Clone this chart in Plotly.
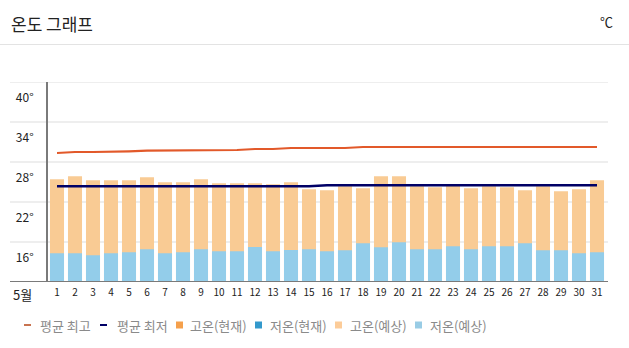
import plotly.graph_objects as go

days = [str(d) for d in range(1, 32)]
high_forecast = [28.4, 28.85, 28.25, 28.25, 28.25, 28.7, 27.95, 27.95, 28.4, 27.8,
                 27.8, 27.8, 27.65, 27.95, 26.9, 26.75, 27.35, 27.05, 28.85, 28.85,
                 27.35, 27.2, 27.4, 27.05, 27.35, 27.2, 26.75, 27.35, 26.6, 26.9, 28.25]
low_forecast = [17.3, 17.3, 17.0, 17.3, 17.45, 17.9, 17.3, 17.45, 17.9, 17.6,
                17.6, 18.25, 17.6, 17.8, 17.9, 17.6, 17.75, 18.8, 18.2, 18.95,
                17.9, 17.9, 18.35, 17.9, 18.35, 18.35, 18.8, 17.75, 17.75, 17.3, 17.45]
avg_high = [32.35, 32.5, 32.5, 32.5, 32.6, 32.7, 32.7, 32.8, 32.8, 32.8,
            32.8, 32.95, 32.95, 33.1, 33.1, 33.1, 33.1, 33.25, 33.25, 33.25,
            33.25, 33.25, 33.25, 33.25, 33.25, 33.25, 33.25, 33.25, 33.25, 33.25, 33.25]
avg_low = [27.35] * 15 + [27.5] * 16
y_label_vals = [16, 22, 28, 34, 40]
y_label_text = ["16°", "22°", "28°", "34°", "40°"]
grid_vals = [19, 25, 31, 37, 43]
legend_labels = ["평균 최고", "평균 최저", "고온(현재)", "저온(현재)", "고온(예상)", "저온(예상)"]

W, H = 629, 348
L, R, T, B = 48, 23, 82, 66
PW, PH = W - L - R, H - T - B


def px(x):
    return (x - L) / PW


def py(y):
    return (H - B - y) / PH


fig = go.Figure()
fig.add_trace(go.Bar(x=days, y=high_forecast, marker_color="#f9cb94",
                     marker_line_width=0, showlegend=False, hoverinfo="skip"))
fig.add_trace(go.Bar(x=days, y=low_forecast, marker_color="#93cdea",
                     marker_line_width=0, showlegend=False, hoverinfo="skip"))
fig.add_trace(go.Scatter(x=days, y=avg_high, mode="lines",
                         line=dict(color="#e2592a", width=2.2), showlegend=False))
fig.add_trace(go.Scatter(x=days, y=avg_low, mode="lines",
                         line=dict(color="#000066", width=2.5), showlegend=False))

shapes = []
for g in grid_vals:
    shapes.append(dict(type="line", xref="paper", yref="y", x0=px(10), x1=px(608),
                       y0=g, y1=g, line=dict(color="#eeeeee", width=2), layer="below"))
shapes.append(dict(type="line", xref="paper", yref="y", x0=px(10), x1=px(608),
                   y0=13, y1=13, line=dict(color="#7a7a7a", width=2), layer="above"))
shapes.append(dict(type="line", xref="paper", yref="paper", x0=px(0), x1=px(W),
                   y0=py(44.5), y1=py(44.5), line=dict(color="#e3e3e3", width=1)))

legend_colors = ["#c87350", "#000066", "#f5a04c", "#3399cc", "#fccc99", "#99cce5"]
sym_x = [24, 100, 176, 255, 335, 415]
txt_x = [38, 115, 188, 268, 348, 428]
ly = 325
annotations = []
for i, (lab, col) in enumerate(zip(legend_labels, legend_colors)):
    if i < 2:
        shapes.append(dict(type="line", xref="paper", yref="paper",
                           x0=px(sym_x[i]), x1=px(sym_x[i] + 7),
                           y0=py(ly), y1=py(ly), line=dict(color=col, width=2)))
    else:
        shapes.append(dict(type="rect", xref="paper", yref="paper",
                           x0=px(sym_x[i]), x1=px(sym_x[i] + 7),
                           y0=py(ly - 3.5), y1=py(ly + 3.5),
                           fillcolor=col, line=dict(width=0)))
    annotations.append(dict(text=lab, xref="paper", yref="paper", x=px(txt_x[i]),
                            y=py(ly), xanchor="left", yanchor="middle", showarrow=False,
                            font=dict(size=13, color="#8a8a8a")))

annotations.append(dict(text="온도 그래프", xref="paper", yref="paper", x=px(9),
                        y=py(23), xanchor="left", yanchor="middle", showarrow=False,
                        font=dict(size=17, color="#222222")))
annotations.append(dict(text="℃", xref="paper", yref="paper", x=px(615),
                        y=py(22), xanchor="right", yanchor="middle", showarrow=False,
                        font=dict(size=13, color="#222222")))
annotations.append(dict(text="5월", xref="paper", yref="paper", x=px(22),
                        y=py(294), xanchor="center", yanchor="middle", showarrow=False,
                        font=dict(size=13, color="#222222")))

fig.update_layout(
    width=W, height=H,
    margin=dict(l=L, r=R, t=T, b=B, pad=0),
    paper_bgcolor="white", plot_bgcolor="white",
    barmode="overlay", bargap=0.22,
    font=dict(family="Noto Sans CJK KR, sans-serif", color="#222222"),
    showlegend=False,
    shapes=shapes, annotations=annotations,
    xaxis=dict(type="category", range=[-0.5, 30.5], showgrid=False, showline=False,
               zeroline=False, ticks="", tickfont=dict(size=10, color="#222222"),
               ticklabelstandoff=3),
    yaxis=dict(range=[13, 43], showgrid=False, zeroline=False, showline=True,
               linecolor="#7a7a7a", linewidth=2, tickmode="array",
               tickvals=y_label_vals, ticktext=y_label_text, ticks="",
               ticklabelstandoff=10, ticklabelshift=-4,
               tickfont=dict(size=12, color="#222222")),
)

fig.write_html("out.html")
